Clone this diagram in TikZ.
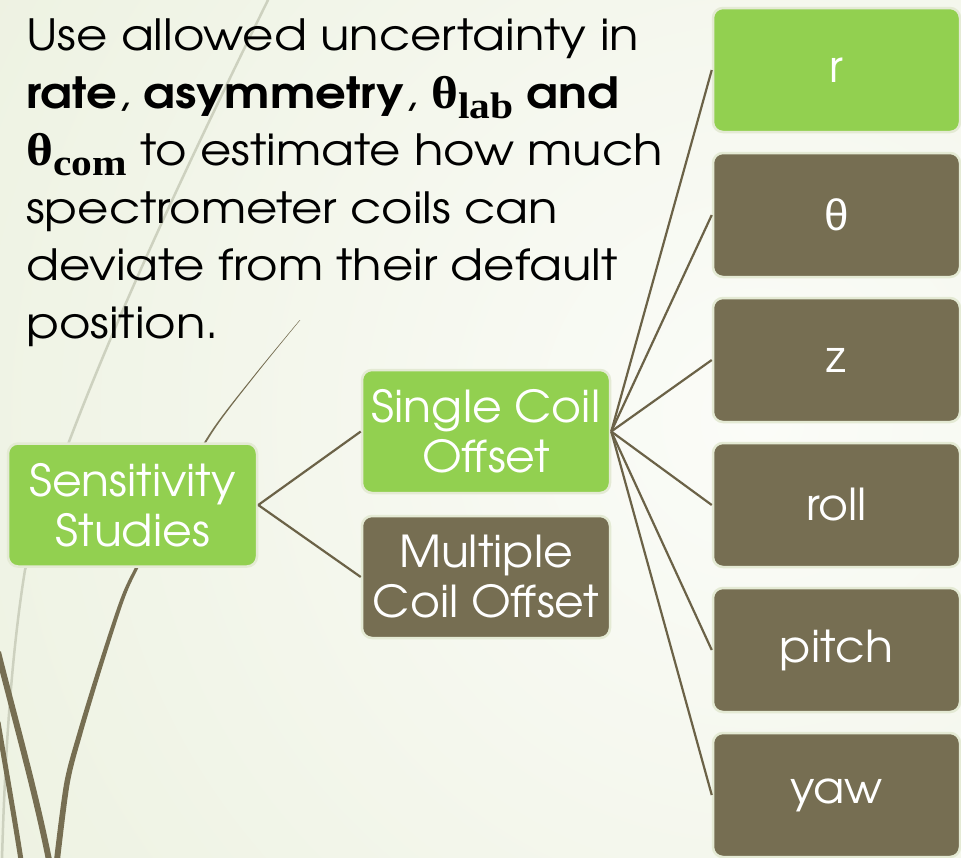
\documentclass[tikz,border=0pt]{standalone}
\usepackage{fontspec}
% geometric sans for all text, a little wider for the paragraph
\IfFontExistsTF{TeX Gyre Adventor}{%
  \setmainfont{TeX Gyre Adventor}[FakeStretch=1.04]
  \newfontfamily\bodyfont{TeX Gyre Adventor}[FakeStretch=1.12]}{%
  \IfFontExistsTF{texgyreadventor-regular.otf}{%
    \setmainfont{texgyreadventor}[Extension=.otf,UprightFont=*-regular,BoldFont=*-bold,
      ItalicFont=*-italic,BoldItalicFont=*-bolditalic,FakeStretch=1.04]
    \newfontfamily\bodyfont{texgyreadventor}[Extension=.otf,UprightFont=*-regular,
      BoldFont=*-bold,ItalicFont=*-italic,BoldItalicFont=*-bolditalic,FakeStretch=1.12]}{%
    \setmainfont{Poppins}
    \newfontfamily\bodyfont{Poppins}}}
\newfontfamily\greekserif{Liberation Serif}[FakeStretch=1.12]
\newfontfamily\greeksans{Liberation Sans}
\usetikzlibrary{positioning}

\definecolor{leaf}{HTML}{92D050}
\definecolor{bark}{HTML}{766E52}
\definecolor{stem}{HTML}{6B6247}
\definecolor{rim}{HTML}{E4EAD4}
\definecolor{haze}{HTML}{CDD1BF}
\definecolor{bgout}{HTML}{E0E8CC}
\definecolor{bgin}{HTML}{FBFCF8}

% bold serif theta with a bold subscript
\newcommand{\thsub}[1]{{\greekserif\bfseries\fontsize{46}{57.5}\selectfont θ%
  \raisebox{-10pt}{\fontsize{37}{37}\selectfont #1}}}

\begin{document}
\begin{tikzpicture}[x=1pt,y=-1pt,
  card/.style={rounded corners=10pt, draw=rim, line width=2.5pt, text=white,
    align=center, inner sep=0pt},
  hot/.style={card, fill=leaf},
  cold/.style={card, fill=bark},
  wide/.style={minimum width=249pt, minimum height=123pt, font=\fontsize{44}{50}\selectfont},
  leafbox/.style={minimum width=247pt, minimum height=124pt, font=\fontsize{44}{50}\selectfont},
  link/.style={draw=stem, line width=2.2pt},
  brief/.style={anchor=north west, align=left, inner sep=0pt, text=black,
    font=\bodyfont\fontsize{43}{57.5}\selectfont}]

% canvas and background wash
\useasboundingbox (0,0) rectangle (961,857);
\begin{scope}
  \clip (0,0) rectangle (961,857);
  \shade[inner color=bgin, outer color=bgout] (760,420) circle (1760);
  % decorative grass strokes on the left
  \draw[haze, line width=2.5pt, line cap=round]
    (268,0) .. controls (150,240) and (70,420) .. (25,570)
            .. controls (12,650) and (5,750) .. (2,860);
  \fill[bark]
    plot[smooth] coordinates {(299.7,320) (254.4,375) (212,430) (173.5,495) (135.2,567)
      (120,600) (97.7,667) (77.4,733) (64.2,783) (54,860)}
    -- plot[smooth] coordinates {(60,860) (69.8,783) (82.6,733) (102.3,667) (124,600)
      (138.8,567) (176.5,495) (214,430) (255.6,375) (300.3,320)} -- cycle;
  \draw[bark, line width=6pt] (-2,652) .. controls (15,720) and (35,790) .. (49,860);
  \draw[bark, line width=5pt] (-2,722) .. controls (6,770) and (14,815) .. (21,860);
\end{scope}

% explanatory text
\node[brief] (intro) at (26,19) {Use allowed uncertainty in\\
  \textbf{rate}, \textbf{asymmetry}, \thsub{lab} \textbf{and}\\
  \thsub{com} to estimate how much\\
  spectrometer coils can\\
  deviate from their default\\
  position.};

% tree of studies
\node[hot, wide] (sens) at (132.5,505) {Sensitivity\\Studies};
\node[hot, wide, minimum width=248pt] (single) at (486,431.5) {Single Coil\\Offset};
\node[cold, wide, minimum width=248pt, minimum height=122pt] (multi) at (486,577) {Multiple\\Coil Offset};

\node[hot, leafbox]  (r)     at (836.5,70)  {r};
\node[cold, leafbox] (theta) at (836.5,215) {{\greeksans θ}};
\node[cold, leafbox] (z)     at (836.5,360) {z};
\node[cold, leafbox] (roll)  at (836.5,505) {roll};
\node[cold, leafbox] (pitch) at (836.5,650) {pitch};
\node[cold, leafbox] (yaw)   at (836.5,795) {yaw};

\draw[link] (sens.east) -- (single.west);
\draw[link] (sens.east) -- (multi.west);
\foreach \leafnode in {r,theta,z,roll,pitch,yaw}
  \draw[link] (single.east) -- (\leafnode.west);
\end{tikzpicture}
\end{document}
